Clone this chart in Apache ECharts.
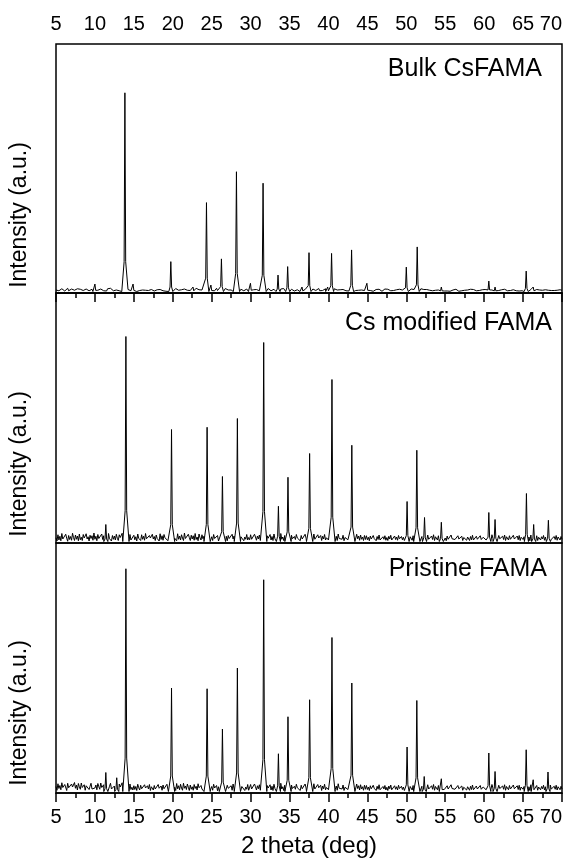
<!DOCTYPE html>
<html>
<head>
<meta charset="utf-8">
<script src="https://cdn.jsdelivr.net/npm/echarts@6/dist/echarts.min.js"></script>
<style>
html,body{margin:0;padding:0;background:#fff;}
#chart{width:576px;height:867px;}
</style>
</head>
<body>
<div id="chart"></div>
<script>
// ---- data ----
const xStart = 5;
const xStep = 0.125;
const xMin = 5, xMax = 70, xInterval = 5;
const panelLabels = ['Bulk CsFAMA', 'Cs modified FAMA', 'Pristine FAMA'];
const yName = 'Intensity (a.u.)';
const xName = '2 theta (deg)';

// baseline noise, one value per 0.125 deg from 5 to 70 (one row = 5 deg)
const noiseTop = [
1.2,0.7,1.6,0.9,1.4,0.6,1.7,1.0,1.3,0.8,1.5,1.1,1.9,0.9,1.2,0.7,1.6,1.0,1.8,1.1,1.4,0.8,1.7,1.2,0.9,1.5,1.1,1.9,1.0,1.3,0.8,1.6,1.2,1.4,0.9,1.7,1.1,1.5,1.0,1.3,
1.5,0.9,1.7,1.1,0.8,1.4,1.6,1.0,1.8,0.9,1.5,1.2,0.8,1.7,1.3,1.0,1.9,1.1,1.6,0.9,1.4,1.0,1.2,0.7,1.3,0.9,1.1,1.5,0.8,1.3,1.0,1.6,1.2,0.7,1.4,1.1,1.7,0.9,1.5,1.2,
1.3,0.8,1.1,0.6,1.2,0.9,1.0,1.4,0.7,1.2,1.0,1.5,1.1,0.8,1.3,1.0,1.6,0.9,1.4,1.1,1.2,0.8,1.0,0.6,1.3,0.9,1.1,1.4,0.8,1.2,0.9,1.5,1.0,0.7,1.3,1.1,1.6,0.9,1.4,1.2,
1.5,1.1,1.4,1.8,1.0,1.5,1.1,1.7,1.2,1.3,1.9,1.0,1.6,1.2,2.0,1.1,1.7,1.3,1.0,1.8,1.4,1.0,1.6,1.2,1.9,1.1,1.5,1.3,1.0,1.7,1.2,1.8,1.1,1.4,1.0,1.6,1.3,1.9,1.1,1.5,
1.3,1.7,1.1,0.9,1.5,1.9,1.0,1.4,1.2,1.7,1.3,0.9,1.4,1.1,1.8,1.0,1.6,1.2,0.8,1.5,1.2,1.7,1.0,1.4,0.9,1.6,1.1,1.8,1.3,1.0,1.5,1.2,1.7,0.9,1.3,1.1,1.6,1.0,1.4,1.2,
1.2,1.7,0.9,1.3,1.6,1.0,1.4,1.9,1.1,0.9,1.5,1.2,1.0,1.7,1.2,1.4,0.8,1.3,1.8,1.0,1.3,0.9,1.6,1.2,1.5,0.8,1.7,1.0,1.4,1.1,0.9,1.6,1.3,1.0,1.8,1.2,1.4,0.9,1.6,1.1,
1.3,0.9,1.5,1.1,1.4,0.8,1.6,1.0,1.3,1.2,0.9,1.5,1.3,1.0,1.8,1.1,1.4,0.9,1.7,1.2,1.0,1.5,1.2,0.9,1.6,1.3,1.7,1.0,1.4,1.1,1.8,0.9,1.3,1.6,1.0,1.5,1.1,1.7,0.9,1.3,
1.1,1.5,1.2,0.9,1.6,1.3,1.7,1.0,1.4,1.2,1.8,0.9,1.3,1.5,1.0,1.4,1.2,1.7,0.9,1.3,1.2,0.8,1.4,1.0,0.9,1.5,0.7,1.3,1.0,1.4,0.8,1.1,1.5,0.9,1.2,0.7,1.4,1.0,1.6,0.9,
1.2,0.8,1.3,1.0,0.9,1.5,0.7,1.2,1.0,1.4,0.8,1.1,1.5,0.9,1.2,0.7,1.4,1.0,1.6,0.9,1.2,1.5,1.0,1.3,0.9,1.6,1.2,1.0,1.5,0.9,1.3,1.1,0.8,1.5,1.0,1.7,1.2,0.9,1.4,1.0,
1.2,1.5,1.0,1.3,0.9,1.6,1.2,1.0,1.4,0.9,1.3,1.1,0.8,1.5,1.0,1.7,1.2,0.9,1.4,1.1,1.0,1.4,0.8,1.2,1.1,0.7,1.3,0.9,1.2,0.8,1.1,1.5,0.9,1.2,0.7,1.1,1.4,0.9,1.3,0.8,
1.0,1.4,0.8,1.2,1.1,0.7,1.3,0.9,1.2,0.8,1.1,1.5,0.9,1.2,0.7,1.1,1.4,0.9,1.3,0.8,1.1,1.4,0.9,1.2,1.6,1.0,1.5,0.9,1.2,1.4,1.0,1.6,0.9,1.2,1.5,1.0,1.4,0.8,1.3,0.9,
1.1,1.4,0.9,1.3,1.6,1.0,1.5,0.9,1.2,1.4,1.0,1.6,0.9,1.2,1.5,1.0,1.4,0.8,1.3,0.9,1.2,1.5,1.0,1.4,0.9,1.6,1.2,1.0,1.4,0.9,1.3,1.5,1.0,0.9,1.4,1.2,0.8,1.1,1.4,0.9,
1.2,1.5,1.0,1.4,0.9,1.6,1.1,1.0,1.4,0.9,1.3,1.5,1.0,0.9,1.4,1.1,0.8,1.2,1.4,0.9,1.1,1.4,0.9,1.3,1.0,1.5,1.1,0.9,1.3,1.0,1.2,1.4,1.0,0.9,1.3,1.1,0.8,1.2,1.3,1.0,
1.1];
const noiseMid = [
2.1,0.8,3.3,1.2,2.7,0.9,3.8,1.6,2.4,1.0,3.5,1.9,0.7,3.0,1.4,2.6,1.1,3.9,2.2,1.0,3.2,1.5,2.8,0.9,3.6,1.3,2.3,1.0,3.4,2.0,1.2,3.7,1.6,2.5,0.8,3.1,1.8,2.9,1.1,4.0,
1.5,2.7,0.9,3.4,1.8,2.4,1.1,3.6,1.4,2.9,1.0,3.2,2.1,1.3,3.8,1.7,2.5,0.8,3.0,1.5,2.8,1.2,3.5,1.9,1.0,3.3,2.2,1.4,3.9,1.1,2.6,1.7,3.1,0.9,2.4,1.6,3.4,1.2,2.0,1.0,
3.1,1.3,2.5,0.8,3.6,1.9,2.2,1.0,3.3,1.5,2.7,1.1,3.8,1.7,2.4,0.9,3.0,2.0,1.2,3.5,1.6,2.6,1.0,3.2,1.8,2.3,0.8,3.7,1.4,2.9,1.1,3.4,2.1,1.3,2.7,0.9,3.1,1.6,2.4,1.8,
1.1,3.0,1.9,2.5,0.9,3.7,1.5,2.8,1.2,3.3,2.0,1.0,4.0,1.8,2.6,1.3,3.5,2.2,1.0,3.1,1.6,2.9,1.1,3.8,1.4,2.4,0.9,3.6,2.1,1.2,3.3,1.7,2.7,1.0,3.9,1.5,2.3,1.1,3.2,1.4,
2.5,1.0,3.4,1.8,2.2,1.2,3.0,0.8,2.6,1.5,3.6,1.1,2.1,3.2,1.4,2.7,0.9,3.0,1.8,2.3,1.2,3.5,1.6,2.8,1.0,3.3,2.0,1.3,3.7,1.1,2.5,1.7,3.1,0.9,2.4,1.5,3.4,1.2,2.2,1.3,
3.3,1.5,2.0,1.0,3.5,2.4,1.1,2.8,1.6,3.2,1.0,2.5,1.8,3.7,1.3,2.2,0.9,2.9,1.9,1.4,3.4,1.2,2.6,1.0,3.6,1.7,2.3,1.1,3.1,2.0,1.3,3.8,1.5,2.4,1.0,3.0,1.8,2.7,1.2,1.5,
2.7,1.1,3.1,1.7,0.9,2.6,1.4,3.4,2.0,1.2,2.8,0.9,3.0,1.6,2.3,1.0,3.5,1.9,1.3,2.5,1.2,3.2,1.8,2.6,1.0,3.6,1.5,2.2,1.1,3.3,2.0,1.4,3.0,1.0,2.7,1.6,3.4,1.2,2.1,2.5,
1.2,2.9,1.7,2.4,0.9,3.3,2.1,1.4,2.7,1.0,3.6,1.8,1.1,2.5,1.5,3.1,0.9,2.2,1.6,2.9,1.3,3.4,1.0,2.6,1.9,3.0,1.2,2.3,1.0,3.5,1.7,2.8,1.1,3.2,1.5,2.4,1.0,3.0,1.4,2.9,
1.3,2.3,0.9,2.8,1.6,1.1,3.0,1.8,2.1,0.9,2.6,1.4,3.2,1.2,1.9,1.0,2.5,1.5,2.9,1.1,2.2,1.0,2.7,1.6,3.1,1.2,2.0,0.9,2.8,1.4,2.4,1.1,3.0,1.7,1.0,2.6,1.3,2.3,1.0,1.2,
2.2,1.4,3.1,0.9,2.5,1.7,1.1,2.9,1.5,2.3,1.0,2.7,1.3,3.4,1.9,1.1,2.6,1.6,3.0,1.2,2.4,1.0,3.2,1.5,2.0,1.1,2.8,1.4,3.3,1.0,2.5,1.8,1.2,2.9,1.0,2.2,1.6,3.0,1.1,1.3,
2.0,0.9,2.8,1.5,2.3,1.1,3.2,1.7,1.0,2.5,1.4,2.1,0.9,2.9,1.6,2.4,1.2,2.7,1.0,2.2,1.5,3.0,1.1,2.4,1.8,1.0,2.6,1.3,3.1,1.2,2.0,0.9,2.7,1.5,2.3,1.0,2.9,1.4,2.1,2.3,
1.5,3.1,1.2,2.4,1.8,1.0,2.6,1.4,3.3,1.9,1.1,2.8,1.5,2.1,0.9,3.0,1.7,2.3,1.2,2.7,1.4,3.2,1.0,2.5,1.8,1.2,2.9,1.5,2.2,1.0,3.1,1.6,2.4,1.1,2.8,1.3,3.0,1.0,2.3,2.8,
1.4,2.5,1.0,2.9,1.8,1.3,2.4,0.9,3.2,1.6,2.1,1.1,2.7,1.4,2.9,1.0,2.3,1.7,1.2,2.5,1.6,3.0,1.1,2.4,1.9,1.0,2.7,1.3,3.1,1.5,2.2,0.9,2.6,1.4,3.0,1.1,2.4,1.7,1.2,2.6,
1.5];
const noiseBot = [
2.6,1.1,3.7,1.8,3.0,1.3,4.1,2.2,1.5,3.4,2.7,1.0,3.9,2.1,2.9,1.3,3.6,2.4,1.6,4.2,1.9,3.2,1.2,3.8,2.5,1.5,4.0,2.2,1.7,3.3,1.1,2.9,2.1,3.7,1.4,2.7,3.9,1.6,2.3,1.3,
2.0,3.2,1.3,3.8,2.5,1.5,4.0,2.2,1.8,3.3,1.1,2.9,2.1,3.7,1.4,2.7,3.9,1.6,2.3,1.2,2.8,1.4,3.5,2.0,1.2,3.6,2.4,1.6,4.1,1.3,2.7,1.9,3.4,1.1,2.5,1.8,3.6,1.4,2.3,1.2,
2.9,1.4,2.6,1.0,3.5,2.1,1.2,3.1,1.7,2.5,1.0,3.3,2.0,1.3,2.9,1.6,3.4,1.0,2.5,1.8,1.2,3.0,1.6,2.4,0.9,3.4,1.9,1.3,2.8,1.1,3.2,1.7,2.3,1.0,3.5,1.5,2.6,1.2,3.0,1.8,
1.2,3.2,2.3,1.0,3.8,1.7,2.9,1.3,3.5,2.0,1.1,3.9,1.9,2.8,1.4,3.6,2.3,1.0,3.2,1.5,2.5,1.1,3.4,1.8,2.7,1.2,3.7,2.1,1.3,3.0,1.6,2.4,1.0,3.5,1.9,2.8,1.3,3.1,1.1,1.6,
2.6,1.1,3.5,2.0,1.4,3.0,0.9,2.5,1.7,3.7,1.2,2.2,3.3,1.5,2.8,1.0,3.1,1.9,2.4,1.3,2.9,1.1,3.6,1.6,2.2,1.0,3.3,2.0,1.4,3.8,1.2,2.6,1.8,3.0,1.0,2.4,1.5,3.4,1.1,1.4,
3.4,1.6,2.1,1.0,3.6,2.5,1.2,2.9,1.7,3.3,1.1,2.6,1.9,3.8,1.4,2.3,1.0,3.0,2.0,1.5,3.3,1.2,2.7,1.0,3.5,1.8,2.4,1.1,3.2,2.1,1.4,3.9,1.6,2.5,1.0,3.1,1.9,2.8,1.2,1.6,
2.8,1.2,3.2,1.8,1.0,2.7,1.5,3.5,2.1,1.3,2.9,1.0,3.1,1.7,2.4,1.1,3.6,2.0,1.4,2.6,1.3,3.3,1.9,2.7,1.0,3.7,1.6,2.3,1.2,3.4,2.1,1.5,3.1,1.0,2.8,1.7,3.5,1.3,2.2,2.6,
1.3,3.0,1.8,2.5,1.0,3.4,2.2,1.5,2.8,1.1,3.7,1.9,1.2,2.6,1.6,3.2,1.0,2.3,1.7,3.0,1.4,3.5,1.1,2.7,2.0,3.1,1.3,2.4,1.0,3.6,1.8,2.9,1.2,3.3,1.6,2.5,1.1,3.1,1.5,3.0,
1.4,2.4,1.0,2.9,1.7,1.2,3.1,1.9,2.2,1.0,2.7,1.5,3.3,1.3,2.0,1.1,2.6,1.6,3.0,1.2,2.3,1.0,2.8,1.7,3.2,1.3,2.1,1.0,2.9,1.5,2.5,1.2,3.1,1.8,1.1,2.7,1.4,2.4,1.0,1.3,
2.3,1.5,3.2,1.0,2.6,1.8,1.2,3.0,1.6,2.4,1.1,2.8,1.4,3.5,2.0,1.2,2.7,1.7,3.1,1.3,2.5,1.1,3.3,1.6,2.1,1.2,2.9,1.5,3.4,1.1,2.6,1.9,1.3,3.0,1.1,2.3,1.7,3.1,1.2,1.4,
2.1,1.0,2.9,1.6,2.4,1.2,3.3,1.8,1.1,2.6,1.5,2.2,1.0,3.0,1.7,2.5,1.3,2.8,1.1,2.3,1.6,3.1,1.2,2.5,1.9,1.1,2.7,1.4,3.2,1.3,2.1,1.0,2.8,1.6,2.4,1.1,3.0,1.5,2.2,2.4,
1.6,3.2,1.3,2.5,1.9,1.1,2.7,1.5,3.4,2.0,1.2,2.9,1.6,2.2,1.0,3.1,1.8,2.4,1.3,2.8,1.5,3.3,1.1,2.6,1.9,1.3,3.0,1.6,2.3,1.1,3.2,1.7,2.5,1.2,2.9,1.4,3.1,1.1,2.4,2.9,
1.5,2.6,1.1,3.0,1.9,1.4,2.5,1.0,3.3,1.7,2.2,1.2,2.8,1.5,3.0,1.1,2.4,1.8,1.3,2.6,1.7,3.1,1.2,2.5,2.0,1.1,2.8,1.4,3.2,1.6,2.3,1.0,2.7,1.5,3.1,1.2,2.5,1.8,1.3,2.7,
1.6];

// peak positions (deg) and heights (panel units, 0-100)
const peakPosTop = [10.0,13.85,14.9,19.75,22.6,24.33,24.9,26.25,28.18,29.98,31.6,33.52,34.76,36.6,37.5,39.9,40.4,42.97,44.94,50.0,51.4,54.5,60.6,61.4,65.4,66.3];
const peakHTop   = [3.6,80.4,3.6,12.6,2.4,36.3,3.2,13.7,48.7,3.9,44.1,7.2,10.6,2.4,16.2,2.4,15.9,17.3,3.9,10.4,18.5,2.4,4.8,2.4,8.8,2.4];

const peakPosMid = [11.4,13.98,19.84,24.41,26.38,28.3,31.68,33.57,34.8,37.58,40.45,43.0,50.1,51.35,52.34,54.5,60.6,61.4,65.43,66.36,68.25];
const peakHMid   = [7.4,82.6,45.4,46.3,26.6,49.8,80.2,14.7,26.3,35.8,65.4,39.1,16.6,37.1,10.2,8.3,12.2,9.4,19.8,7.4,9.1];

const peakPosBot = [11.4,12.8,13.98,19.84,24.41,26.38,28.3,31.68,33.57,34.8,37.58,40.45,43.0,50.1,51.35,52.3,54.5,60.6,61.4,65.4,66.3,68.2];
const peakHBot   = [8.2,6.1,89.7,42.0,41.7,25.6,50.0,85.3,15.7,30.5,37.3,62.2,44.0,18.4,37.0,6.6,5.7,16.0,8.6,17.3,5.3,8.4];

// ---- build series points from the arrays ----
function footHalfWidth(h){ return h > 20 ? 0.4 : 0.26; }
function buildTrace(noise, pos, hts){
  const pts = [];
  noise.forEach(function(v, i){
    const x = xStart + i * xStep;
    if (x > xMax) return;
    const covered = pos.some(function(p, j){ return Math.abs(x - p) < footHalfWidth(hts[j]); });
    if (!covered) pts.push([x, v]);
  });
  pos.forEach(function(p, j){
    const h = hts[j], w = footHalfWidth(h), b = 0.6;
    pts.push([p - w, b], [p - 0.1, b + 0.15 * (h - b)], [p, h], [p + 0.1, b + 0.15 * (h - b)], [p + w, b]);
  });
  pts.sort(function(a, b){ return a[0] - b[0]; });
  return pts;
}

const traces = [
  buildTrace(noiseTop, peakPosTop, peakHTop),
  buildTrace(noiseMid, peakPosMid, peakHMid),
  buildTrace(noiseBot, peakPosBot, peakHBot)
];

// ---- chart ----
const FONT = 'Liberation Sans, Arial, sans-serif';
const chart = echarts.init(document.getElementById('chart'), null, {renderer: 'canvas'});

const gridTops = [44, 293, 543];
const gridH = [249, 250, 250];
const grids = gridTops.map(function(t, i){
  return {left: 56, right: 14, top: t, height: gridH[i], show: true, borderColor: '#000', borderWidth: 1.5, backgroundColor: 'transparent', containLabel: false};
});

const baseX = {type: 'value', min: xMin, max: xMax, interval: xInterval, splitLine: {show: false}};
const xAxes = [
  Object.assign({}, baseX, {
    gridIndex: 0, position: 'top',
    axisLine: {show: true, lineStyle: {color: '#000', width: 1.5}},
    axisTick: {show: true, inside: true, length: 9, lineStyle: {color: '#000', width: 1.5}},
    minorTick: {show: true, splitNumber: 2, length: 5, lineStyle: {color: '#000', width: 1.5}},
    axisLabel: {show: true, margin: 10, fontSize: 20, color: '#000', fontFamily: FONT, alignMaxLabel: 'right'}
  }),
  Object.assign({}, baseX, {gridIndex: 1, show: false}),
  Object.assign({}, baseX, {
    gridIndex: 2, position: 'bottom',
    axisLine: {show: true, lineStyle: {color: '#000', width: 1.5}},
    axisTick: {show: true, inside: false, length: 9, lineStyle: {color: '#000', width: 1.5}},
    minorTick: {show: true, splitNumber: 2, length: 5, lineStyle: {color: '#000', width: 1.5}},
    axisLabel: {show: true, margin: 14, fontSize: 20, color: '#000', fontFamily: FONT, alignMaxLabel: 'right'},
    name: xName, nameLocation: 'middle', nameGap: 41,
    nameTextStyle: {fontSize: 24, color: '#000', fontFamily: FONT}
  })
];

const yAxes = [0, 1, 2].map(function(i){
  return {type: 'value', gridIndex: i, min: 0, max: 100, show: false};
});

const series = traces.map(function(d, i){
  return {type: 'line', xAxisIndex: i, yAxisIndex: i, data: d, symbol: 'none', showSymbol: false,
    lineStyle: {color: '#000', width: 1}, animation: false, silent: true, clip: true};
});

const yNameCenters = [215, 464, 713];
const labelRight = [542, 552, 547];
const labelMid = [69, 323, 569];
const graphics = [];
yNameCenters.forEach(function(cy){
  graphics.push({type: 'text', x: 20, y: cy, rotation: Math.PI / 2,
    style: {text: yName, font: '23px ' + FONT, fill: '#000', textAlign: 'center', textVerticalAlign: 'middle'}});
});
panelLabels.forEach(function(t, i){
  graphics.push({type: 'text', x: labelRight[i], y: labelMid[i],
    style: {text: t, font: '25px ' + FONT, fill: '#000', textAlign: 'right', textVerticalAlign: 'middle'}});
});

chart.setOption({
  backgroundColor: '#fff',
  animation: false,
  grid: grids,
  xAxis: xAxes,
  yAxis: yAxes,
  series: series,
  graphic: graphics
});
</script>
</body>
</html>
